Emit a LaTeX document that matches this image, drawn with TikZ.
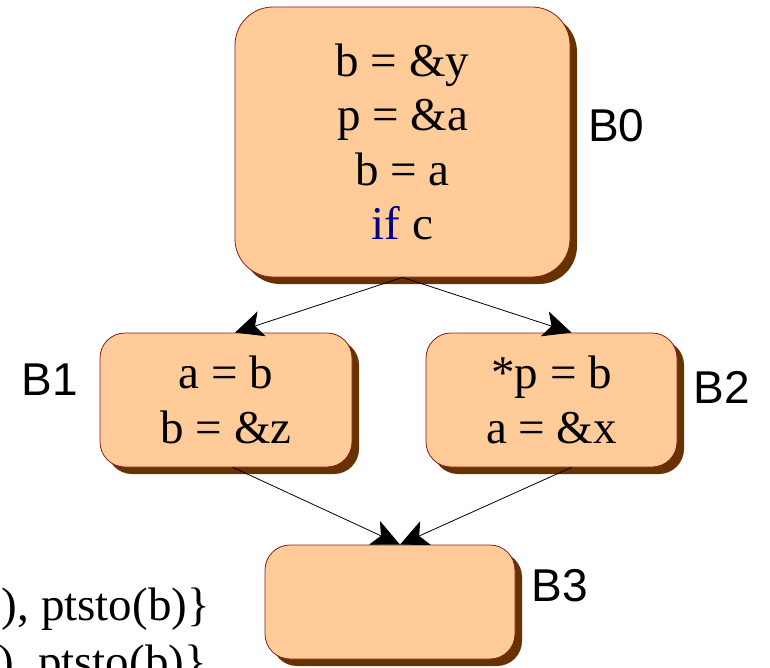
\documentclass[tikz,border=0pt]{standalone}
\usepackage{fontspec}
\setmainfont{Liberation Serif}
\newfontfamily\labelfont{Liberation Sans}
\usepackage{tikz}
\usetikzlibrary{arrows.meta,calc,shadows}
\definecolor{boxfill}{HTML}{FFCC99}
\definecolor{boxline}{HTML}{8B1A1A}
\definecolor{boxshadow}{HTML}{663300}
\definecolor{ifblue}{HTML}{000080}

\begin{document}
\begin{tikzpicture}[
  x=1pt, y=-1pt,
  font=\fontsize{47}{54.5}\selectfont,
  box/.style={draw=boxline, fill=boxfill, line width=0.8pt, rounded corners=#1,
              inner sep=0pt, align=center,
              drop shadow={shadow xshift=7pt, shadow yshift=-7pt, fill=boxshadow, opacity=1}},
  box/.default=25pt,
  ar/.style={-{Stealth[length=28pt, width=26pt, inset=7pt]}, line width=0.8pt},
  lbl/.style={font=\labelfont\fontsize{46}{46}\selectfont, anchor=base west, inner sep=0pt},
  note/.style={anchor=base east, inner sep=0pt},
]
\useasboundingbox (0,0) rectangle (770,668);
\clip (0,0) rectangle (770,668);

% ---------- blocks ----------
\node[box=38pt, minimum width=335pt, minimum height=270pt] (b0) at (402.5,142)
     {b = \&y\\p = \&a\\b = a\\\textcolor{ifblue}{if} c};
\node[box, minimum width=252pt, minimum height=134pt] (b1) at (226,400) {a = b\\b = \&z};
\node[box, minimum width=251pt, minimum height=134pt] (b2) at (551.5,400) {*p = b\\a = \&x};
\node[box, minimum width=250pt, minimum height=114pt] (b3) at (390,602) {};

% ---------- block names ----------
\node[lbl] (n0) at (588,142) {B0};
\node[lbl] (n1) at (21.5,395) {B1};
\node[lbl] (n2) at (693.5,403) {B2};
\node[lbl] (n3) at (531.5,601) {B3};

% ---------- edges ----------
\draw[ar] (b0.south) -- ($(b1.north)+(9,0)$);
\draw[ar] (b0.south) -- ($(b2.north)+(20,0)$);
\draw[ar] ($(b1.south)+(7,0)$) -- ($(b3.north)+(10,0)$);
\draw[ar] ($(b2.south)+(20,0)$) -- ($(b3.north)+(10,0)$);

% ---------- points-to sets ----------
\node[note] (s1) at (210,620) {b), ptsto(b)\}};
\node[note] (s2) at (207,677) {), ptsto(b)\}};
\end{tikzpicture}
\end{document}
